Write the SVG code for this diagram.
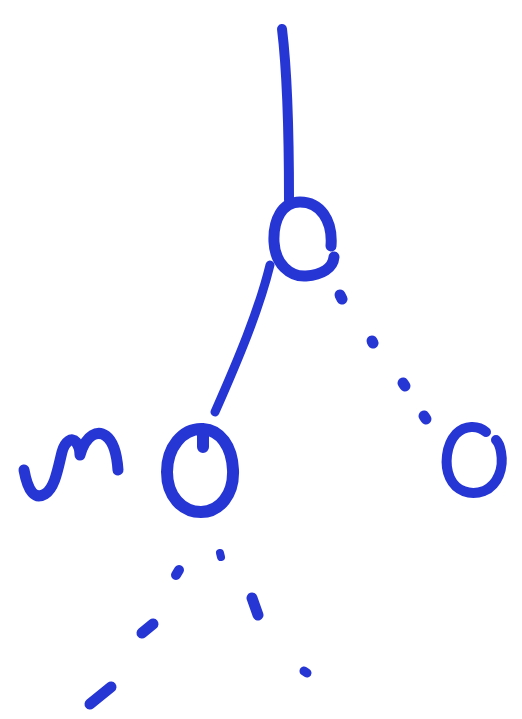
<svg xmlns="http://www.w3.org/2000/svg" width="522" height="719" viewBox="0 0 522 719">
<style>
.s{fill:none;stroke:#2636d4;stroke-linecap:round;stroke-linejoin:round}
.d{fill:#2636d4;stroke:#2636d4;stroke-linecap:round}
</style>
<rect width="522" height="719" fill="#ffffff"/>
<g id="connectors">
  <path class="s" stroke-width="10" d="M282,29 C287,70 289,120 289,200"/>
  <path class="s" stroke-width="9" d="M270,265 C259,310 238,360 215,412"/>
  <g id="dots-right">
    <path class="d" stroke-width="11" d="M340,295 L342,299"/>
    <path class="d" stroke-width="11" d="M372,341 L373,343"/>
    <path class="d" stroke-width="11" d="M403,383 L405,386"/>
    <path class="d" stroke-width="11" d="M424,416 L426,419"/>
  </g>
  <g id="dots-bottom-left">
    <path class="d" stroke-width="8" d="M220,553 L221,557"/>
    <path class="d" stroke-width="10" d="M176,575 L179,570"/>
    <path class="d" stroke-width="11" d="M142,633 L153,624"/>
    <path class="d" stroke-width="11" d="M90,704 L111,687"/>
  </g>
  <g id="dots-bottom-right">
    <path class="d" stroke-width="11" d="M252,598 L258,615"/>
    <path class="d" stroke-width="9" d="M304,671 L307,673"/>
  </g>
</g>
<g id="root">
  <path class="s" stroke-width="11" d="M331,246 C333,220 320,202 300,202 C282,202 273,220 274,242 C275,264 290,277 306,276 C322,275 333,268 334,257"/>
</g>
<g id="left-child">
  <path class="s" stroke-width="12" d="M203,447 L203,429 C182,428 167,448 167,472 C167,496 182,512 201,512 C220,512 234,494 233,470 C232,446 220,430 203,429"/>
</g>
<g id="right-child">
  <path class="s" stroke-width="10" d="M486,432 C478,425 465,425 456,434 C446,445 444,465 450,478 C456,491 470,496 484,491 C498,485 504,468 501,452 C500,446 498,442 496,440"/>
</g>
<g id="label">
  <path class="s" stroke-width="11" d="M24,470 C28,492 35,500 45,494 C55,488 58,468 62,452 C65,441 72,437 76,442 C80,447 80,455 80,455 C86,434 98,430 106,436 C114,442 117,456 118,470"/>
</g>
</svg>
